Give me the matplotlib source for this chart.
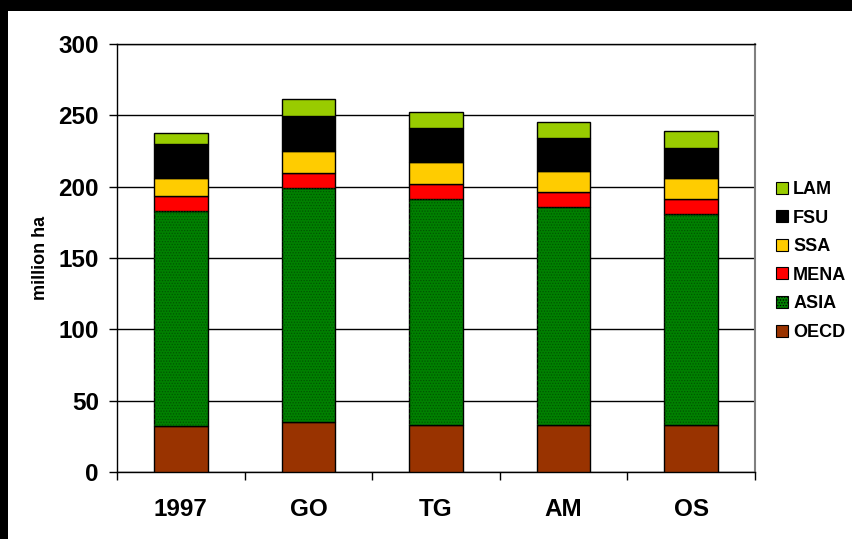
import matplotlib
matplotlib.use("Agg")
import matplotlib.pyplot as plt
from matplotlib.patches import Rectangle, Patch
import numpy as np

plt.rcParams["font.family"] = ["Liberation Sans", "DejaVu Sans"]
plt.rcParams["font.weight"] = "bold"
plt.rcParams["hatch.linewidth"] = 0.6

# ------------------------------------------------------------------ #
# Data (million ha)
# ------------------------------------------------------------------ #
scenarios = ["1997", "GO", "TG", "AM", "OS"]
regions = ["OECD", "ASIA", "MENA", "SSA", "FSU", "LAM"]

oecd = [32.0, 35.3, 33.0, 33.0, 33.0]
asia = [151.0, 163.5, 158.1, 152.7, 147.8]
mena = [10.3, 11.0, 11.0, 10.6, 10.3]
ssa = [12.7, 15.2, 15.0, 14.9, 14.8]
fsu = [23.8, 24.6, 23.8, 22.9, 21.4]
lam = [8.1, 11.5, 11.7, 11.4, 11.5]

colors = {
    "OECD": "#993300",
    "ASIA": "#008000",
    "MENA": "#FF0000",
    "SSA": "#FFCC00",
    "FSU": "#000000",
    "LAM": "#99CC00",
}

series = dict(zip(regions, [oecd, asia, mena, ssa, fsu, lam]))

fig = plt.figure(figsize=(8.53, 5.39), dpi=100)
fig.patch.set_facecolor("black")
# white chart sheet inside the dark frame
fig.add_artist(Rectangle((8 / 853, 0), 1, 1 - 11 / 539,
                         transform=fig.transFigure, facecolor="white",
                         edgecolor="none", zorder=0))

ax = fig.add_axes([117 / 853, 67 / 539, 638 / 853, 428 / 539])
ax.set_facecolor("white")

x = np.arange(len(scenarios))
width = 0.42
bottom = np.zeros(len(scenarios))
for name in regions:
    vals = np.array(series[name])
    ax.bar(x, vals, width, bottom=bottom, color=colors[name],
           edgecolor="black", linewidth=1.0, zorder=3)
    if name == "ASIA":
        # fine dotted texture on the green segment
        ax.bar(x, vals, width, bottom=bottom, fill=False,
               edgecolor="#005500", hatch="......", linewidth=0, zorder=4)
    bottom += vals

ax.set_xlim(-0.5, len(scenarios) - 0.5)
ax.set_ylim(0, 300)
ax.set_yticks(np.arange(0, 301, 50))
ax.yaxis.grid(True, color="black", linewidth=1.0, zorder=0)
ax.set_axisbelow(True)

ax.set_xticks(x)
ax.set_xticklabels(scenarios)
ax.set_xticks(np.arange(-0.5, len(scenarios)), minor=True)
ax.tick_params(axis="x", which="major", length=0, pad=19, labelsize=17.5)
ax.tick_params(axis="x", which="minor", length=6, width=1.0, direction="out")
ax.tick_params(axis="y", length=6, width=1.0, direction="out", pad=7,
               labelsize=17.5)

for side in ["left", "bottom", "top"]:
    ax.spines[side].set_color("black")
    ax.spines[side].set_linewidth(1.0)
ax.spines["right"].set_color("#808080")
ax.spines["right"].set_linewidth(1.5)

ax.set_ylabel("million ha", fontsize=13, fontweight="bold", labelpad=7)

handles = [Patch(facecolor=colors[r], edgecolor="black", linewidth=0.8,
                 hatch="......" if r == "ASIA" else None)
           for r in reversed(regions)]
fig.legend(handles, list(reversed(regions)), loc="center left",
           bbox_to_anchor=(776 / 853, 1 - 261 / 539), frameon=False,
           handlelength=0.65, handleheight=0.65, handletextpad=0.3,
           labelspacing=0.64, borderpad=0, borderaxespad=0,
           prop={"size": 13, "weight": "bold"})

fig.savefig("out.png", dpi=100, facecolor=fig.get_facecolor())
